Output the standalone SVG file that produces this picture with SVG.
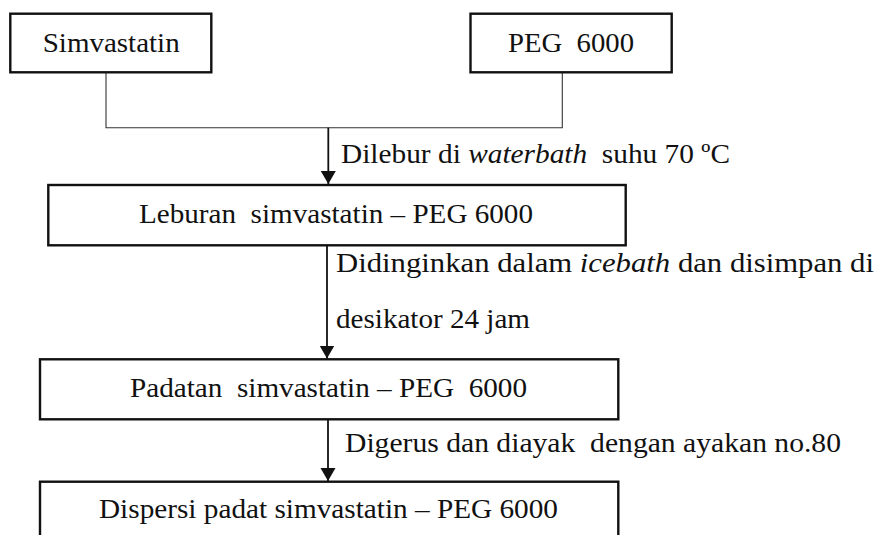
<svg xmlns="http://www.w3.org/2000/svg" width="881" height="535" viewBox="0 0 881 535">
<style>
  .box { fill: #fff; stroke: #111; stroke-width: 2.4; }
  .t { font-family: "Times New Roman", Times, "Liberation Serif", "DejaVu Serif", serif; font-size: 28px; fill: #111; }
  .it { font-style: italic; }
  .thin { fill: none; stroke: #333; stroke-width: 1.1; }
  .arr { fill: none; stroke: #111; stroke-width: 1.8; marker-end: url(#ah); }
</style>
<defs>
  <marker id="ah" markerUnits="userSpaceOnUse" viewBox="0 -8 14 16" refX="13" refY="0" markerWidth="14" markerHeight="16" orient="auto">
    <path d="M0,-7.5 L13,0 L0,7.5 z" fill="#111"/>
  </marker>
</defs>
<rect width="881" height="535" fill="#fff"/>

<g id="connectors">
  <path class="thin" d="M106,73 V127.7 H562.3 V73"/>
  <line class="arr" x1="328.3" y1="127.7" x2="328.3" y2="184"/>
  <line class="arr" x1="327" y1="245.3" x2="327" y2="358.5"/>
  <line class="arr" x1="328" y1="419.3" x2="328" y2="481"/>
</g>

<g id="simvastatin">
  <rect class="box" x="10.3" y="13.7" width="201" height="58.6"/>
  <text class="t" x="42.7" y="51.5" textLength="137" lengthAdjust="spacingAndGlyphs">Simvastatin</text>
</g>

<g id="peg6000">
  <rect class="box" x="470.5" y="13.7" width="201.2" height="58.6"/>
  <text class="t" x="508" y="51.5" textLength="126" lengthAdjust="spacingAndGlyphs" xml:space="preserve">PEG  6000</text>
</g>

<g id="label-dilebur">
  <text class="t" x="341" y="163.3" textLength="389" lengthAdjust="spacingAndGlyphs" xml:space="preserve">Dilebur di <tspan class="it">waterbath</tspan>  suhu 70 ºC</text>
</g>

<g id="leburan">
  <rect class="box" x="48.3" y="185" width="577.4" height="60.3"/>
  <text class="t" x="139" y="223.3" textLength="394" lengthAdjust="spacingAndGlyphs" xml:space="preserve">Leburan  simvastatin – PEG 6000</text>
</g>

<g id="label-didinginkan">
  <text class="t" x="336" y="271.7" textLength="538" lengthAdjust="spacingAndGlyphs">Didinginkan dalam <tspan class="it">icebath</tspan> dan disimpan di</text>
  <text class="t" x="336" y="328.3" textLength="194" lengthAdjust="spacingAndGlyphs">desikator 24 jam</text>
</g>

<g id="padatan">
  <rect class="box" x="40" y="359.3" width="578.3" height="60"/>
  <text class="t" x="130" y="397.3" textLength="397" lengthAdjust="spacingAndGlyphs" xml:space="preserve">Padatan  simvastatin – PEG  6000</text>
</g>

<g id="label-digerus">
  <text class="t" x="345" y="451.7" textLength="496" lengthAdjust="spacingAndGlyphs" xml:space="preserve">Digerus dan diayak  dengan ayakan no.80</text>
</g>

<g id="dispersi">
  <rect class="box" x="40" y="481.7" width="578.3" height="70"/>
  <text class="t" x="99" y="518.3" textLength="459" lengthAdjust="spacingAndGlyphs">Dispersi padat simvastatin – PEG 6000</text>
</g>
</svg>
